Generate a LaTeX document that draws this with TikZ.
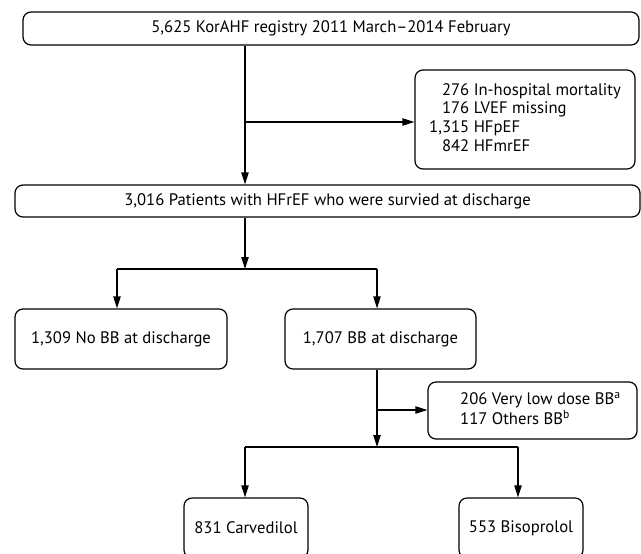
\documentclass[tikz,border=0pt]{standalone}
\usepackage{fontspec}
\setmainfont{PT Sans}
\usepackage{tikz}
\usetikzlibrary{calc}
\usetikzlibrary{arrows.meta}

\begin{document}
\begin{tikzpicture}[x=0.75pt,y=-0.75pt,
  box/.style={draw,black,line width=0.9pt,rounded corners=6pt,inner sep=0pt,align=center,
    font=\fontsize{12.5}{14}\selectfont},
  arr/.style={black,line width=0.9pt,-{Triangle[length=9pt,width=5.5pt]}},
  line/.style={black,line width=0.9pt}]

\useasboundingbox (0,0) rectangle (641,553);
\clip (0,0) rectangle (641,553);

\node[box,minimum width=462pt,minimum height=24.75pt] (reg) at (331,28.5) {5,625 KorAHF registry 2011 March--2014 February};
\node[box,minimum width=165pt,minimum height=74.25pt] (excl) at (525,119.5)
  {\begin{tabular}{@{}r@{ }l@{}}276 & In-hospital mortality\\ 176 & LVEF missing\\ 1,315 & HFpEF\\ 842 & HFmrEF\end{tabular}};
\node[box,minimum width=468.75pt,minimum height=24pt] (hfref) at (327.5,201) {3,016 Patients with HFrEF who were survied at discharge};
\node[box,minimum width=159pt,minimum height=45pt] (nobb) at (121,339) {1,309 No BB at discharge};
\node[box,minimum width=143.25pt,minimum height=45pt] (bb) at (380.5,339) {1,707 BB at discharge};
\node[box,minimum width=156.75pt,minimum height=42.75pt] (excl2) at (532.5,410.5)
  {\hspace{12pt}\begin{tabular}{@{}l@{}}206 Very low dose BB\textsuperscript{a}\\ 117 Others BB\textsuperscript{b}\end{tabular}};
\node[box,minimum width=93pt,minimum height=45pt] (carv) at (246,528) {831 Carvedilol};
\node[box,minimum width=93pt,minimum height=45pt] (biso) at (521,528) {553 Bisoprolol};

\coordinate (j1) at (245,122);
\coordinate (j2) at (245,269);
\coordinate (j2l) at (117,269);
\coordinate (j2r) at (377,269);
\coordinate (j3) at (377,410);
\coordinate (j4) at (377,447);
\coordinate (j4l) at (245,447);
\coordinate (j4r) at (518,447);

\draw[arr] (reg.south -| j1) -- (hfref.north -| j1);
\draw[arr] (j1) -- (excl.west |- j1);
\draw[arr] (hfref.south -| j2) -- (j2);
\draw[line] (j2l) -- (j2r);
\draw[arr] (j2l) -- (nobb.north -| j2l);
\draw[arr] (j2r) -- (bb.north -| j2r);
\draw[arr] (bb.south -| j3) -- (j4);
\draw[arr] (j3) -- (excl2.west |- j3);
\draw[line] (j4l) -- (j4r);
\draw[arr] (j4l) -- (carv.north -| j4l);
\draw[arr] (j4r) -- (biso.north -| j4r);

\end{tikzpicture}
\end{document}
